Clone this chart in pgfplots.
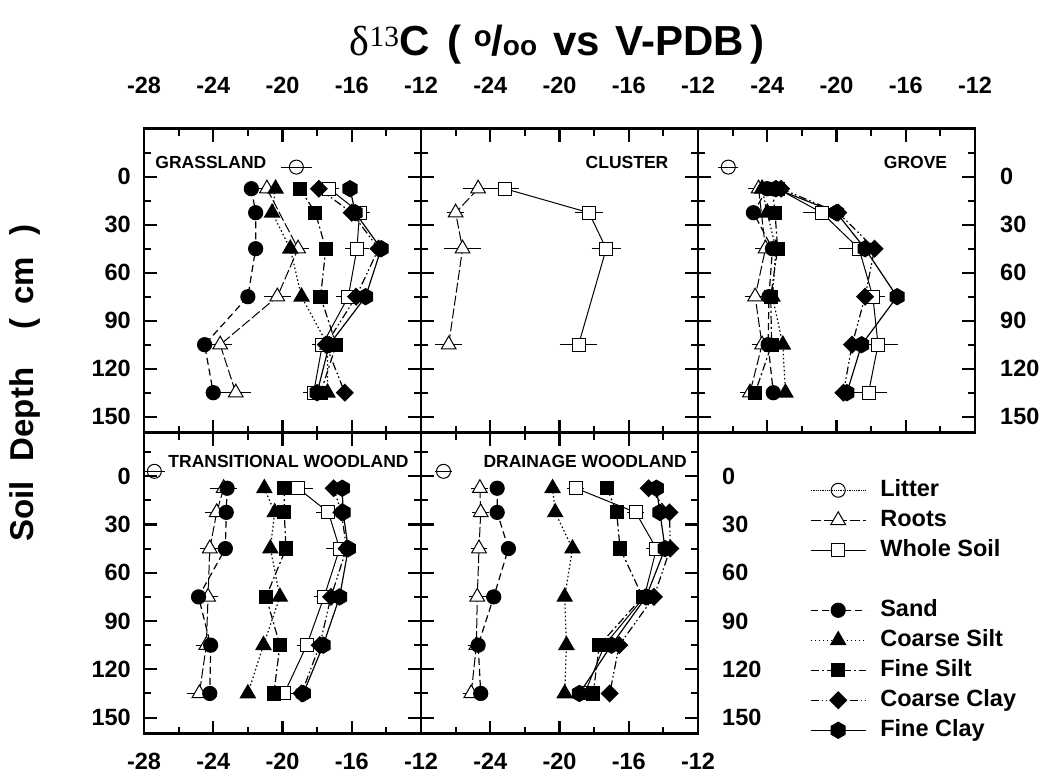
\documentclass[border=0pt]{standalone}
\usepackage{fontspec}
\setmainfont{Liberation Sans}
\newfontfamily\seriffont{Liberation Serif}
\usepackage{pgfplots}
\pgfplotsset{compat=1.18}

% filled hexagon for the fine clay series
\pgfdeclareplotmark{hexagon*}{%
  \pgfpathmoveto{\pgfpointpolar{90}{\pgfplotmarksize}}%
  \pgfpathlineto{\pgfpointpolar{150}{\pgfplotmarksize}}%
  \pgfpathlineto{\pgfpointpolar{210}{\pgfplotmarksize}}%
  \pgfpathlineto{\pgfpointpolar{270}{\pgfplotmarksize}}%
  \pgfpathlineto{\pgfpointpolar{330}{\pgfplotmarksize}}%
  \pgfpathlineto{\pgfpointpolar{30}{\pgfplotmarksize}}%
  \pgfpathclose
  \pgfusepathqfillstroke}

\tikzset{pname/.style={font=\fontsize{17.5}{18}\selectfont\bfseries, inner sep=0pt}}

\pgfplotsset{
  panel/.style={
    scale only axis, width=277pt, clip=false,
    xmin=-28, xmax=-12, y dir=reverse,
    xtick={-28,-24,-20,-16,-12}, minor xtick={-26,-22,-18,-14},
    ytick={0,30,60,90,120,150}, minor ytick={-15,15,45,75,105,135},
    axis line style={line width=2.6pt},
    major tick style={line width=2.2pt, black},
    minor tick style={line width=2pt, black},
    major tick length=13pt, minor tick length=7pt,
    tick align=inside,
    ticklabel style={font=\fontsize{23.5}{24}\selectfont\bfseries, inner sep=0pt},
    yticklabels={},
  },
  upper/.style={panel, height=304pt, ymin=-30, ymax=160,
    xticklabel pos=upper, xticklabel style={yshift=35pt}},
  lower/.style={panel, height=301pt, ymin=-27, ymax=160,
    xticklabel style={yshift=-19pt}},
  ebar/.style={error bars/.cd, x dir=both, x explicit,
    error bar style={line width=1pt, solid},
    error mark options={mark size=5pt, line width=1pt, solid}},
  litter/.style={black, line width=0.8pt, densely dotted, mark=o, mark size=7pt,
    mark options={solid, fill=white, line width=1pt}},
  roots/.style={black, line width=1pt, dash pattern=on 10pt off 3pt, mark=triangle*,
    mark size=8.5pt, mark options={solid, fill=white, line width=1pt}},
  whole/.style={black, line width=1pt, mark=square*, mark size=6.5pt,
    mark options={solid, fill=white, line width=1pt}},
  sand/.style={black, line width=1.2pt, dash pattern=on 7pt off 4pt, mark=*,
    mark size=7pt, mark options={solid}},
  csilt/.style={black, line width=1.2pt, dash pattern=on 1.5pt off 2.5pt,
    mark=triangle*, mark size=8.5pt, mark options={solid}},
  fsilt/.style={black, line width=1.2pt, dash pattern=on 8pt off 3pt on 2pt off 3pt,
    mark=square*, mark size=6.5pt, mark options={solid}},
  cclay/.style={black, line width=1.2pt,
    dash pattern=on 8pt off 3pt on 1.5pt off 2.5pt on 1.5pt off 3pt,
    mark=square*, mark size=5.8pt, mark options={solid, rotate=45}},
  fclay/.style={black, line width=1.2pt, solid, mark=hexagon*, mark size=8pt},
}

\begin{document}
\begin{tikzpicture}[x=1pt, y=1pt]
\useasboundingbox (0,0) rectangle (1045,-778);

\node[font=\fontsize{42}{42}\selectfont\bfseries] at (557,-45)
  {{\seriffont\mdseries δ\textsuperscript{13}}C\hspace{18pt}(\hspace{12pt}\textsuperscript{o}\kern-1pt/{\fontsize{28}{28}\selectfont oo}\hspace{16pt}vs\hspace{16pt}V-PDB\hspace{6pt})};
\node[rotate=90, font=\fontsize{33}{33}\selectfont\bfseries] at (25,-383)
  {Soil\hspace{20pt}Depth\hspace{38pt}(\hspace{14pt}cm\hspace{22pt})};

% ---------------- GRASSLAND
\begin{axis}[upper, at={(144pt,-128.7pt)}, anchor=north west,
  xticklabels={-28,-24,-20,-16,-12},
  yticklabels={0,30,60,90,120,150}, yticklabel style={xshift=-13pt}]
\addplot[roots, ebar] coordinates {(-20.9,7.5) +- (0.5,0) (-19.1,45) +- (0.35,0)
  (-20.3,75) +- (0.5,0) (-23.6,105) +- (0.4,0) (-22.7,135) +- (0.6,0)};
\addplot[whole, ebar] coordinates {(-17.3,7.5) +- (0.3,0) (-15.55,22.5) +- (0.3,0)
  (-15.7,45) +- (0.4,0) (-16.2,75) +- (0.4,0) (-17.7,105) +- (0.3,0) (-18.2,135) +- (0.3,0)};
\addplot[sand] coordinates {(-21.8,7.5) (-21.55,22.5) (-21.55,45) (-22.0,75) (-24.5,105) (-24.0,135)};
\addplot[csilt] coordinates {(-20.4,7.5) (-20.6,22.5) (-19.55,45) (-18.9,75) (-17.4,105) (-17.4,135)};
\addplot[fsilt] coordinates {(-19.0,7.5) (-18.1,22.5) (-17.5,45) (-17.8,75) (-16.9,105) (-17.8,135)};
\addplot[cclay] coordinates {(-17.9,7.5) (-16.0,22.5) (-14.45,45) (-15.75,75) (-17.5,105) (-16.4,135)};
\addplot[fclay] coordinates {(-16.1,7.5) (-15.8,22.5) (-14.3,45) (-15.2,75) (-17.3,105) (-18.0,135)};
\addplot[litter, ebar] coordinates {(-19.2,-6) +- (0.6,0)};
\node[pname, anchor=west] at (axis cs:-27.35,-9.2) {GRASSLAND};
\end{axis}

% ---------------- CLUSTER
\begin{axis}[upper, at={(421pt,-128.7pt)}, anchor=north west,
  xticklabels={,-24,-20,-16,-12}]
\addplot[roots, ebar] coordinates {(-24.7,7.5) +- (0.6,0) (-26.0,22.5) +- (0.2,0)
  (-25.6,45) +- (0.8,0) (-26.4,105) +- (0.5,0)};
\addplot[whole, ebar] coordinates {(-23.15,7.5) +- (0.5,0) (-18.3,22.5) +- (0.5,0)
  (-17.3,45) +- (0.55,0) (-18.9,105) +- (0.8,0)};
\node[pname, anchor=east] at (axis cs:-13.7,-9.2) {CLUSTER};
\end{axis}

% ---------------- GROVE
\begin{axis}[upper, at={(698pt,-128.7pt)}, anchor=north west,
  xticklabels={,-24,-20,-16,-12},
  yticklabel pos=right, yticklabels={0,30,60,90,120,150},
  yticklabel style={xshift=25pt}]
\addplot[roots, ebar] coordinates {(-24.5,7.5) +- (0.3,0) (-24.1,45) +- (0.3,0)
  (-24.7,75) +- (0.3,0) (-24.3,105) +- (0.3,0) (-25.0,135) +- (0.3,0)};
\addplot[whole, ebar] coordinates {(-23.4,7.5) +- (0.3,0) (-20.85,22.5) +- (0.8,0)
  (-18.7,45) +- (0.85,0) (-17.9,75) +- (0.4,0) (-17.6,105) +- (0.85,0) (-18.15,135) +- (0.8,0)};
\addplot[sand] coordinates {(-24.0,7.5) (-24.8,22.5) (-23.7,45) (-23.9,75) (-23.95,105) (-23.65,135)};
\addplot[csilt] coordinates {(-24.3,7.5) (-24.0,22.5) (-23.5,45) (-23.7,75) (-23.1,105) (-22.95,135)};
\addplot[fsilt] coordinates {(-23.7,7.5) (-23.55,22.5) (-23.4,45) (-23.8,75) (-23.75,105) (-24.7,135)};
\addplot[cclay] coordinates {(-23.2,7.5) (-19.9,22.5) (-17.8,45) (-18.35,75) (-19.1,105) (-19.6,135)};
\addplot[fclay] coordinates {(-23.5,7.5) (-20.0,22.5) (-18.35,45) (-16.5,75) (-18.55,105) (-19.4,135)};
\addplot[litter, ebar] coordinates {(-26.25,-6) +- (0.3,0)};
\node[pname, anchor=east] at (axis cs:-13.6,-9.2) {GROVE};
\end{axis}

% ---------------- TRANSITIONAL WOODLAND
\begin{axis}[lower, at={(144pt,-432.7pt)}, anchor=north west,
  xticklabels={-28,-24,-20,-16,-12},
  yticklabels={0,30,60,90,120,150}, yticklabel style={xshift=-13pt}]
\addplot[roots, ebar] coordinates {(-23.4,7.5) +- (0.5,0) (-23.8,22.5) +- (0.4,0)
  (-24.2,45) +- (0.3,0) (-24.3,75) +- (0.3,0) (-24.4,105) +- (0.3,0) (-24.8,135) +- (0.4,0)};
\addplot[whole, ebar] coordinates {(-19.1,7.5) +- (0.55,0) (-17.35,22.5) +- (0.4,0)
  (-16.7,45) +- (0.5,0) (-17.6,75) +- (0.3,0) (-18.6,105) +- (0.3,0) (-19.9,135) +- (0.2,0)};
\addplot[sand] coordinates {(-23.2,7.5) (-23.25,22.5) (-23.3,45) (-24.85,75) (-24.15,105) (-24.2,135)};
\addplot[csilt] coordinates {(-21.05,7.5) (-20.45,22.5) (-20.7,45) (-20.15,75) (-21.1,105) (-22.0,135)};
\addplot[fsilt] coordinates {(-19.9,7.5) (-19.9,22.5) (-19.8,45) (-20.95,75) (-20.15,105) (-20.5,135)};
\addplot[cclay] coordinates {(-17.05,7.5) (-16.6,22.5) (-16.3,45) (-17.2,75) (-17.85,105) (-18.9,135)};
\addplot[fclay] coordinates {(-16.55,7.5) (-16.5,22.5) (-16.2,45) (-16.7,75) (-17.65,105) (-18.8,135)};
\addplot[litter, ebar] coordinates {(-27.4,-3) +- (0.3,0)};
\node[pname, anchor=west] at (axis cs:-26.6,-9.4) {TRANSITIONAL WOODLAND};
\end{axis}

% ---------------- DRAINAGE WOODLAND
\begin{axis}[lower, at={(421pt,-432.7pt)}, anchor=north west,
  xticklabels={,-24,-20,-16,-12},
  yticklabel pos=right, yticklabels={0,30,60,90,120,150},
  yticklabel style={xshift=24pt}]
\addplot[roots, ebar] coordinates {(-24.6,7.5) +- (0.2,0) (-24.55,22.5) +- (0.2,0)
  (-24.65,45) +- (0.2,0) (-24.75,75) +- (0.2,0) (-24.8,105) +- (0.2,0) (-25.1,135) +- (0.2,0)};
\addplot[whole, ebar] coordinates {(-19.05,7.5) +- (0.2,0) (-15.6,22.5) +- (0.2,0)
  (-14.4,45) +- (0.3,0) (-15.1,75) +- (0.2,0) (-17.4,105) +- (0.2,0) (-18.55,135) +- (0.2,0)};
\addplot[sand] coordinates {(-23.6,7.5) (-23.6,22.5) (-22.95,45) (-23.8,75) (-24.7,105) (-24.55,135)};
\addplot[csilt] coordinates {(-20.4,7.5) (-20.25,22.5) (-19.25,45) (-19.7,75) (-19.6,105) (-19.7,135)};
\addplot[fsilt] coordinates {(-17.25,7.5) (-16.7,22.5) (-16.5,45) (-15.2,75) (-17.7,105) (-18.05,135)};
\addplot[cclay] coordinates {(-14.85,7.5) (-13.65,22.5) (-13.6,45) (-14.55,75) (-16.55,105) (-17.1,135)};
\addplot[fclay] coordinates {(-14.4,7.5) (-14.2,22.5) (-13.9,45) (-15.0,75) (-17.0,105) (-18.85,135)};
\addplot[litter, ebar] coordinates {(-26.7,-3) +- (0.2,0)};
\node[pname, anchor=west] at (axis cs:-24.4,-9.4) {DRAINAGE WOODLAND};
\end{axis}

% ---------------- legend
\begin{axis}[at={(698pt,-432.7pt)}, anchor=north west, scale only axis,
  width=277pt, height=301pt, hide axis, xmin=0, xmax=1, ymin=0, ymax=1,
  legend cell align=left,
  legend style={at={(0.404,0.846)}, anchor=north west, draw=none, fill=none,
    inner sep=0pt, font=\fontsize{23.5}{24}\selectfont\bfseries,
    row sep=8pt, column sep=14pt,
    nodes={inner sep=0pt, text height=17pt, text depth=5pt}},
  legend image code/.code={\draw[mark repeat=2, mark phase=2, #1]
    plot coordinates {(0pt,0pt) (27.5pt,0pt) (55pt,0pt)};}]
\addlegendimage{litter}\addlegendentry{Litter}
\addlegendimage{roots}\addlegendentry{Roots}
\addlegendimage{whole}\addlegendentry{Whole Soil}
\addlegendimage{empty legend}\addlegendentry{}
\addlegendimage{sand}\addlegendentry{Sand}
\addlegendimage{csilt}\addlegendentry{Coarse Silt}
\addlegendimage{fsilt}\addlegendentry{Fine Silt}
\addlegendimage{cclay}\addlegendentry{Coarse Clay}
\addlegendimage{fclay}\addlegendentry{Fine Clay}
\end{axis}
\end{tikzpicture}
\end{document}
